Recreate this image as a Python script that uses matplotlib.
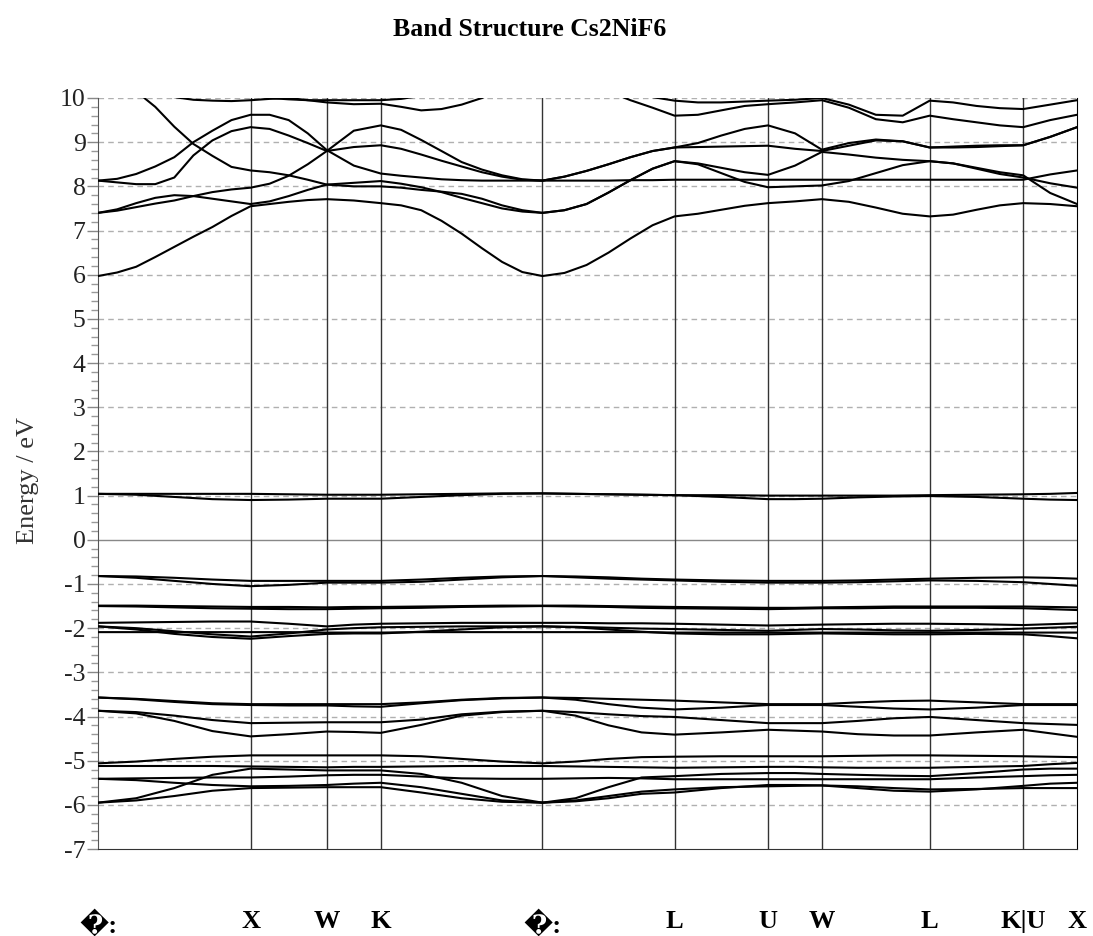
import matplotlib
matplotlib.use('Agg')
import matplotlib.pyplot as plt
from matplotlib.ticker import MultipleLocator

plt.rcParams['axes.unicode_minus'] = False

# symmetry points along the path (units of 2pi/a) and their labels
knodes = [0.0, 1.0, 1.5, 1.854, 2.914, 3.780, 4.393, 4.746, 5.453, 6.066, 6.419]
klabels = ["\ufffd:", "X", "W", "K", "\ufffd:", "L", "U", "W", "L", "K|U", "X"]

# k-points where the conduction bands were sampled
kfine = [0.0, 0.125, 0.25, 0.375, 0.5, 0.625, 0.75, 0.875, 1.0,
         1.125, 1.25, 1.375, 1.5,
         1.677, 1.854,
         1.987, 2.119, 2.252, 2.384, 2.517, 2.649, 2.782, 2.914,
         3.058, 3.203, 3.347, 3.491, 3.636, 3.780,
         3.933, 4.086, 4.240, 4.393,
         4.570, 4.746,
         4.923, 5.100, 5.276, 5.453,
         5.606, 5.760, 5.913, 6.066,
         6.243, 6.419]

# k-points where the flat valence / eg bands were sampled
kcoarse = [0.0, 0.25, 0.5, 0.75, 1.0, 1.25, 1.5, 1.677, 1.854, 2.119, 2.384, 2.649, 2.914,
           3.131, 3.347, 3.564, 3.780, 4.086, 4.393, 4.570, 4.746, 4.982, 5.218, 5.453,
           5.760, 6.066, 6.243, 6.419]

# conduction bands (eV) on kfine
band_a = [5.97, 6.05, 6.18, 6.40, 6.63, 6.86, 7.08, 7.33, 7.55,
          7.60, 7.65, 7.69, 7.71,
          7.68, 7.62,
          7.57, 7.46, 7.22, 6.93, 6.60, 6.29, 6.06, 5.97,
          6.04, 6.22, 6.50, 6.82, 7.12, 7.32,
          7.38, 7.47, 7.56, 7.62,
          7.66, 7.71,
          7.65, 7.52, 7.38, 7.32,
          7.36, 7.47, 7.57, 7.62,
          7.60, 7.55]
band_d = [10.6, 10.45, 10.15, 9.80, 9.35, 8.96, 8.69, 8.44, 8.36,
          8.32, 8.25, 8.15, 8.04,
          8.00, 8.00,
          7.97, 7.92, 7.88, 7.83, 7.72, 7.57, 7.46, 7.40,
          7.46, 7.60, 7.86, 8.14, 8.40, 8.57,
          8.50, 8.30, 8.10, 7.98,
          8.00, 8.02,
          8.12, 8.30, 8.48, 8.57,
          8.52, 8.40, 8.28, 8.20,
          8.07, 7.97]
band_e1 = [7.40, 7.48, 7.62, 7.74, 7.80, 7.78, 7.72, 7.66, 7.60,
           7.66, 7.78, 7.92, 8.04,
           8.08, 8.12,
           8.06, 7.98, 7.87, 7.74, 7.62, 7.50, 7.43, 7.40,
           7.46, 7.60, 7.86, 8.14, 8.40, 8.57,
           8.52, 8.42, 8.32, 8.26,
           8.47, 8.78,
           8.72, 8.65, 8.60, 8.57,
           8.52, 8.42, 8.32, 8.25,
           7.85, 7.60]
band_e2 = [7.40, 7.45, 7.53, 7.61, 7.68, 7.78, 7.87, 7.93, 7.97,
           8.06, 8.24, 8.50, 8.80,
           9.26, 9.38,
           9.28, 9.05, 8.80, 8.55, 8.38, 8.25, 8.16, 8.13,
           8.22, 8.35, 8.50, 8.66, 8.80, 8.88,
           8.89, 8.90, 8.91, 8.92,
           8.85, 8.80,
           8.92, 9.04, 9.02, 8.88,
           8.88, 8.89, 8.91, 8.93,
           9.12, 9.34]
band_c1 = [8.13, 8.09, 8.05, 8.05, 8.20, 8.70, 9.04, 9.25, 9.34,
           9.30, 9.15, 8.98, 8.80,
           8.89, 8.93,
           8.85, 8.72, 8.58, 8.45, 8.32, 8.22, 8.15, 8.13,
           8.22, 8.35, 8.50, 8.66, 8.80, 8.88,
           8.98, 9.15, 9.30, 9.38,
           9.20, 8.83,
           8.98, 9.06, 9.02, 8.88,
           8.90, 8.92, 8.93, 8.93,
           9.12, 9.34]
band_c2 = [8.13, 8.17, 8.28, 8.45, 8.66, 9.00, 9.26, 9.50, 9.62,
           9.62, 9.50, 9.20, 8.82,
           8.47, 8.29,
           8.24, 8.20, 8.16, 8.14, 8.13, 8.13, 8.13, 8.13,
           8.13, 8.13, 8.13, 8.14, 8.14, 8.15,
           8.15, 8.15, 8.15, 8.15,
           8.15, 8.15,
           8.15, 8.15, 8.15, 8.15,
           8.15, 8.15, 8.15, 8.15,
           8.27, 8.36]
band_t1 = [10.6, 10.5, 10.3, 10.1, 10.02, 9.96, 9.94, 9.93, 9.95,
           9.98, 10.0, 9.95, 9.90,
           9.86, 9.87,
           9.80, 9.72, 9.75, 9.85, 10.0, 10.2, 10.35, 10.4,
           10.4, 10.35, 10.15, 9.95, 9.78, 9.60,
           9.62, 9.72, 9.82, 9.86,
           9.90, 9.95,
           9.78, 9.52, 9.45, 9.60,
           9.52, 9.45, 9.38, 9.34,
           9.50, 9.62]
band_t2 = [10.8, 10.7, 10.6, 10.5, 10.4, 10.3, 10.2, 10.1, 10.05,
           10.0, 9.97, 9.95, 9.95,
           9.95, 9.95,
           9.98, 10.05, 10.2, 10.35, 10.5, 10.6, 10.7, 10.8,
           10.7, 10.5, 10.3, 10.15, 10.02, 9.94,
           9.90, 9.90, 9.92, 9.94,
           9.96, 10.0,
           9.85, 9.62, 9.60, 9.94,
           9.90, 9.82, 9.77, 9.75,
           9.85, 9.95]

# Ni eg bands around 1 eV (on kcoarse)
eg_top = [1.04, 1.04, 1.04, 1.04, 1.04, 1.03, 1.02, 1.02, 1.02, 1.03, 1.04, 1.05, 1.05, 1.04,
          1.03, 1.02, 1.01, 1.01, 1.00, 1.00, 1.00, 1.00, 1.00, 1.01, 1.02, 1.03, 1.04, 1.06]
eg_bot = [1.04, 1.02, 0.97, 0.92, 0.90, 0.91, 0.93, 0.93, 0.93, 0.97, 1.01, 1.04, 1.05, 1.04,
          1.03, 1.02, 1.01, 0.97, 0.92, 0.92, 0.93, 0.96, 0.98, 0.99, 0.97, 0.93, 0.91, 0.90]

# valence bands (on kcoarse)
v1a = [-0.82, -0.83, -0.86, -0.90, -0.93, -0.93, -0.93, -0.93, -0.93, -0.90, -0.86, -0.83, -0.82, -0.83,
       -0.85, -0.88, -0.90, -0.92, -0.93, -0.93, -0.93, -0.92, -0.90, -0.88, -0.86, -0.85, -0.86, -0.88]
v1b = [-0.82, -0.86, -0.93, -1.00, -1.05, -1.02, -0.97, -0.97, -0.97, -0.95, -0.90, -0.85, -0.82, -0.85,
       -0.88, -0.90, -0.92, -0.95, -0.97, -0.97, -0.97, -0.96, -0.94, -0.92, -0.93, -0.96, -1.00, -1.04]
v2a = [-1.49, -1.49, -1.50, -1.51, -1.52, -1.52, -1.53, -1.52, -1.52, -1.51, -1.50, -1.49, -1.49, -1.49,
       -1.50, -1.51, -1.52, -1.53, -1.54, -1.54, -1.53, -1.52, -1.51, -1.51, -1.51, -1.51, -1.52, -1.53]
v2b = [-1.50, -1.51, -1.53, -1.55, -1.56, -1.57, -1.57, -1.56, -1.55, -1.54, -1.52, -1.51, -1.50, -1.51,
       -1.52, -1.54, -1.55, -1.56, -1.57, -1.56, -1.55, -1.55, -1.54, -1.54, -1.54, -1.55, -1.57, -1.59]
v3a = [-1.88, -1.87, -1.86, -1.85, -1.85, -1.90, -1.96, -1.92, -1.90, -1.89, -1.88, -1.88, -1.88, -1.88,
       -1.89, -1.89, -1.90, -1.92, -1.94, -1.93, -1.92, -1.91, -1.90, -1.90, -1.91, -1.93, -1.91, -1.89]
v3b = [-1.96, -2.00, -2.07, -2.14, -2.19, -2.12, -2.03, -2.00, -1.98, -1.97, -1.96, -1.96, -1.96, -1.97,
       -1.99, -2.01, -2.02, -2.04, -2.06, -2.04, -2.02, -2.03, -2.05, -2.06, -2.04, -2.01, -1.99, -1.97]
v3c = [-2.09, -2.09, -2.09, -2.09, -2.09, -2.09, -2.10, -2.10, -2.10, -2.09, -2.09, -2.09, -2.09, -2.09,
       -2.09, -2.09, -2.10, -2.10, -2.10, -2.10, -2.10, -2.10, -2.10, -2.10, -2.10, -2.10, -2.10, -2.10]
v3d = [-1.96, -2.03, -2.13, -2.20, -2.24, -2.18, -2.13, -2.12, -2.12, -2.08, -2.03, -1.98, -1.96, -1.98,
       -2.03, -2.08, -2.12, -2.14, -2.14, -2.13, -2.12, -2.13, -2.14, -2.14, -2.13, -2.14, -2.18, -2.23]
v4a = [-3.57, -3.60, -3.65, -3.70, -3.72, -3.72, -3.72, -3.72, -3.72, -3.68, -3.62, -3.58, -3.57, -3.58,
       -3.60, -3.62, -3.64, -3.68, -3.72, -3.72, -3.72, -3.68, -3.65, -3.64, -3.68, -3.72, -3.72, -3.72]
v4b = [-3.57, -3.61, -3.67, -3.72, -3.74, -3.75, -3.75, -3.77, -3.78, -3.70, -3.63, -3.59, -3.57, -3.62,
       -3.72, -3.80, -3.84, -3.80, -3.74, -3.74, -3.74, -3.78, -3.82, -3.84, -3.80, -3.74, -3.74, -3.74]
v4c = [-3.87, -3.90, -3.98, -4.08, -4.15, -4.14, -4.13, -4.13, -4.13, -4.07, -3.95, -3.89, -3.87, -3.90,
       -3.95, -3.99, -4.01, -4.08, -4.15, -4.15, -4.15, -4.10, -4.04, -4.01, -4.08, -4.15, -4.17, -4.19]
v4d = [-3.87, -3.93, -4.10, -4.33, -4.45, -4.40, -4.34, -4.35, -4.37, -4.19, -3.98, -3.90, -3.87, -3.98,
       -4.20, -4.36, -4.41, -4.36, -4.30, -4.32, -4.34, -4.40, -4.43, -4.43, -4.36, -4.30, -4.38, -4.46]
v5a = [-5.06, -5.02, -4.96, -4.91, -4.88, -4.88, -4.88, -4.88, -4.88, -4.90, -4.96, -5.02, -5.06, -5.02,
       -4.96, -4.92, -4.91, -4.90, -4.90, -4.90, -4.90, -4.89, -4.88, -4.88, -4.89, -4.90, -4.91, -4.92]
v5b = [-5.12, -5.12, -5.12, -5.12, -5.13, -5.14, -5.15, -5.14, -5.14, -5.13, -5.12, -5.12, -5.12, -5.13,
       -5.14, -5.15, -5.16, -5.15, -5.14, -5.14, -5.15, -5.16, -5.16, -5.16, -5.14, -5.12, -5.08, -5.05]
v5c = [-5.95, -5.85, -5.62, -5.32, -5.18, -5.20, -5.22, -5.22, -5.22, -5.30, -5.50, -5.80, -5.95, -5.85,
       -5.60, -5.38, -5.35, -5.30, -5.28, -5.28, -5.30, -5.32, -5.34, -5.35, -5.28, -5.20, -5.18, -5.18]
v5d = [-5.41, -5.40, -5.39, -5.38, -5.38, -5.36, -5.33, -5.32, -5.32, -5.36, -5.40, -5.41, -5.41, -5.40,
       -5.39, -5.40, -5.42, -5.42, -5.42, -5.42, -5.42, -5.42, -5.42, -5.42, -5.38, -5.35, -5.33, -5.32]
v5e = [-5.41, -5.44, -5.50, -5.55, -5.58, -5.57, -5.55, -5.52, -5.50, -5.60, -5.75, -5.90, -5.95, -5.92,
       -5.85, -5.75, -5.72, -5.62, -5.55, -5.55, -5.56, -5.62, -5.68, -5.70, -5.65, -5.57, -5.52, -5.50]
v5f = [-5.95, -5.90, -5.80, -5.68, -5.62, -5.61, -5.60, -5.60, -5.60, -5.72, -5.85, -5.93, -5.95, -5.90,
       -5.80, -5.70, -5.65, -5.60, -5.58, -5.57, -5.56, -5.58, -5.62, -5.65, -5.64, -5.62, -5.62, -5.62]

conduction = [band_a, band_d, band_e1, band_e2, band_c1, band_c2, band_t1, band_t2]
eg_bands = [eg_top, eg_bot]
valence = [v1a, v1b, v2a, v2b, v3a, v3b, v3c, v3d, v4a, v4b, v4c, v4d,
           v5a, v5b, v5c, v5d, v5e, v5f]

serif = ['Liberation Serif', 'DejaVu Serif']

fig = plt.figure(figsize=(10.93, 9.36), dpi=100)
ax = fig.add_axes([0.0897, 0.0929, 0.8957, 0.8024])

# grid: dashed at every integer, solid at the Fermi level
for e in range(-6, 11):
    if e == 0:
        ax.axhline(e, color='#888888', lw=1.0, zorder=1)
    else:
        ax.axhline(e, color='#b0b0b0', lw=1.0, ls=(0, (4, 3)), zorder=1)

for k in knodes[1:-1]:
    ax.axvline(k, color='#333333', lw=1.0, zorder=2)

line_kw = dict(color='black', lw=1.5, zorder=3, solid_joinstyle='round', solid_capstyle='round')
for band in conduction:
    ax.plot(kfine, band, **line_kw)
for band in eg_bands + valence:
    ax.plot(kcoarse, band, **line_kw)

ax.set_xlim(knodes[0], knodes[-1])
ax.set_ylim(-7, 10)

ax.spines['top'].set_visible(False)
ax.spines['right'].set_color('black')
ax.spines['left'].set_color('#555555')
ax.spines['bottom'].set_color('#333333')

ax.yaxis.set_major_locator(MultipleLocator(1))
ax.yaxis.set_minor_locator(MultipleLocator(0.2))
ax.tick_params(axis='y', which='major', direction='out', length=8, width=1,
               color='#888888', labelsize=18.5, labelcolor='#222222', pad=1)
ax.tick_params(axis='y', which='minor', direction='out', length=5, width=1, color='#999999')
for lab in ax.get_yticklabels():
    lab.set_family(serif)

ax.set_xticks(knodes)
ax.set_xticklabels(klabels, family=serif, fontweight='bold', fontsize=19)
ax.tick_params(axis='x', length=0, pad=44)

fig.text(0.485, 0.968, "Band Structure Cs2NiF6", ha='center', va='center',
         family=serif, fontweight='bold', fontsize=18.5)
fig.text(0.026, 0.487, "Energy / eV", ha='center', va='center', rotation=90,
         family=serif, fontsize=19, color='#333333')

fig.savefig('out.png', dpi=100)
